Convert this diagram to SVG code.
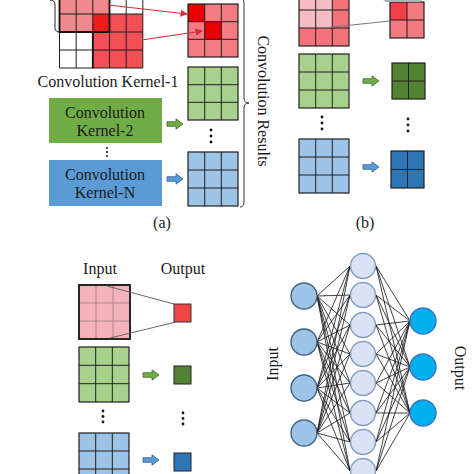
<svg xmlns="http://www.w3.org/2000/svg" width="474" height="474" viewBox="0 0 474 474">
<style>
text{font-family:"Liberation Serif","Times New Roman",serif;font-size:16px;fill:#1a1a1a}
.gl{fill:none;stroke:#1f1f1f;stroke-width:1}
.gb{fill:none;stroke:#1f1f1f;stroke-width:1.2}
.thick{fill:none;stroke:#111;stroke-width:1.8}
.lr{fill:#f08a8e}.br{fill:#ee1c1c}.dr{fill:#f25055}.rc{fill:#f27c80}.rb{fill:#e60000}
.lg{fill:#a9d18e}.dg{fill:#548235}.lb{fill:#9dc3e6}.db{fill:#2e75b6}
.pk{fill:#f5bcc2}.rd{fill:#f2737a}
.ga{fill:#70ad47;stroke:#3f6b28;stroke-width:0.8}
.ba{fill:#5b9bd5;stroke:#2f5f8f;stroke-width:0.8}
.dot{fill:#111}
.in{fill:#9dc3e6;stroke:#3f6286;stroke-width:1.4}
.hd{fill:#dae3f3;stroke:#7f9cc7;stroke-width:1.4}
.out{fill:#00b0f0;stroke:#3a78c0;stroke-width:1.4}
</style>
<defs>
<marker id="ah" viewBox="0 0 10 10" refX="9" refY="5" markerWidth="6" markerHeight="6" orient="auto">
<path d="M0 0L10 5L0 10z" fill="#d42a3a"/>
</marker>
<path id="arr" d="M0 -2.3H9V-5.2L16 0L9 5.2V2.3H0Z"/>
</defs>
<rect width="474" height="474" fill="#fff"/>

<!-- Panel (a) -->
<g id="input-grid-a">
<rect x="59.5" y="-22" width="83.3" height="90" fill="#fff"/>
<rect class="lr" x="59.5" y="-22" width="50" height="54"/>
<rect class="dr" x="92.8" y="14" width="50" height="54"/>
<rect class="br" x="92.8" y="14" width="16.7" height="18"/>
<path class="gl" d="M59.5 -22V68M76.2 -22V68M92.8 -22V68M109.5 -22V68M126.2 -22V68M142.8 -22V68M59.5 -4H142.8M59.5 14H142.8M59.5 32H142.8M59.5 50H142.8M59.5 68H142.8"/>
<path class="thick" d="M59.5 -22V32H109.5V-22"/>
<path class="thick" d="M92.8 32V68"/>
<path class="gl" d="M50 0Q55 0 55 5V28Q55 32 60 32"/>
</g>
<g id="kernel1-label"><text x="108" y="87" text-anchor="middle">Convolution Kernel-1</text></g>
<g id="kernel2">
<rect x="49" y="98" width="113" height="45" fill="#70ad47"/>
<text x="105" y="118" text-anchor="middle">Convolution</text>
<text x="105" y="136" text-anchor="middle">Kernel-2</text>
</g>
<g id="dots-a-left"><circle class="dot" cx="107" cy="148" r="1"/><circle class="dot" cx="107" cy="152" r="1"/><circle class="dot" cx="107" cy="156" r="1"/></g>
<g id="kernelN">
<rect x="49" y="160" width="113" height="46" fill="#5b9bd5"/>
<text x="105" y="180" text-anchor="middle">Convolution</text>
<text x="105" y="198" text-anchor="middle">Kernel-N</text>
</g>
<g id="result-red-a">
<rect class="rc" x="188" y="4" width="50" height="53"/>
<rect class="rb" x="188" y="4" width="16.7" height="17.7"/>
<rect class="rb" x="204.7" y="21.7" width="16.7" height="17.6"/>
<path class="gl" d="M204.7 4V57M221.3 4V57M188 21.7H238M188 39.3H238"/>
<rect class="gb" x="188" y="4" width="50" height="53"/>
</g>
<g id="result-green-a">
<rect class="lg" x="188" y="67" width="50" height="53"/>
<path class="gl" d="M204.7 67V120M221.3 67V120M188 84.7H238M188 102.3H238"/>
<rect class="gb" x="188" y="67" width="50" height="53"/>
</g>
<g id="dots-a-right"><circle class="dot" cx="211" cy="130" r="1.4"/><circle class="dot" cx="211" cy="136" r="1.4"/><circle class="dot" cx="211" cy="142" r="1.4"/></g>
<g id="result-blue-a">
<rect class="lb" x="188" y="152" width="50" height="54"/>
<path class="gl" d="M204.7 152V206M221.3 152V206M188 170H238M188 188H238"/>
<rect class="gb" x="188" y="152" width="50" height="54"/>
</g>
<g id="brace-a"><path d="M240 -2Q244 -2 244 3V98Q244 103 249 103Q244 103 244 108V202Q244 207 240 207" fill="none" stroke="#333" stroke-width="1"/></g>
<g id="label-results"><text transform="translate(258 101) rotate(90)" text-anchor="middle">Convolution Results</text></g>
<g id="label-a"><text x="162" y="228" text-anchor="middle">(a)</text></g>

<!-- Panel (b) -->
<g id="input-red-b">
<rect class="rd" x="299" y="-8" width="50" height="54"/>
<rect class="pk" x="299" y="-8" width="33.3" height="36"/>
<path class="gl" d="M315.7 -8V46M332.3 -8V46M299 10H349M299 28H349"/>
<rect class="gb" x="299" y="-8" width="50" height="54"/>
</g>
<g id="output-red-b">
<rect x="390" y="2" width="34" height="36" fill="#f27a80"/>
<rect x="390" y="2" width="17" height="18" fill="#f0404a"/>
<path class="gl" d="M407 2V38M390 20H424"/>
<rect class="gb" x="390" y="2" width="34" height="36"/>
</g>
<g id="input-green-b">
<rect class="lg" x="299" y="54" width="50" height="54"/>
<path class="gl" d="M315.7 54V108M332.3 54V108M299 72H349M299 90H349"/>
<rect class="gb" x="299" y="54" width="50" height="54"/>
</g>
<g id="output-green-b">
<rect class="dg" x="392" y="63" width="33" height="36"/>
<path class="gl" d="M408.5 63V99M392 81H425"/>
<rect class="gb" x="392" y="63" width="33" height="36"/>
</g>
<g id="dots-b"><circle class="dot" cx="322" cy="117" r="1.4"/><circle class="dot" cx="322" cy="123" r="1.4"/><circle class="dot" cx="322" cy="129" r="1.4"/><circle class="dot" cx="408" cy="119" r="1.4"/><circle class="dot" cx="408" cy="125" r="1.4"/><circle class="dot" cx="408" cy="131" r="1.4"/></g>
<g id="input-blue-b">
<rect class="lb" x="299" y="139" width="50" height="54"/>
<path class="gl" d="M315.7 139V193M332.3 139V193M299 157H349M299 175H349"/>
<rect class="gb" x="299" y="139" width="50" height="54"/>
</g>
<g id="output-blue-b">
<rect class="db" x="391" y="151" width="33" height="37"/>
<path class="gl" d="M407.5 151V188M391 169.5H424"/>
<rect class="gb" x="391" y="151" width="33" height="37"/>
</g>
<g id="label-b"><text x="365" y="228" text-anchor="middle">(b)</text></g>

<!-- Panel (c) -->
<g id="label-c-input"><text x="100" y="274" text-anchor="middle">Input</text></g>
<g id="label-c-output"><text x="183" y="274" text-anchor="middle">Output</text></g>
<g id="input-pink-c">
<rect x="79" y="285" width="51" height="54" fill="#f4b3bb"/>
<path d="M96 285V339M113 285V339M79 303H130M79 321H130" fill="none" stroke="#a07c80" stroke-width="0.8"/>
<rect x="79" y="285" width="51" height="54" fill="none" stroke="#111" stroke-width="1.8"/>
</g>
<g id="output-red-c"><rect x="174" y="304" width="17" height="18" fill="#f04545" stroke="#333" stroke-width="1"/></g>
<g id="input-green-c">
<rect class="lg" x="79" y="347" width="50" height="55"/>
<path class="gl" d="M95.7 347V402M112.3 347V402M79 365.3H129M79 383.7H129"/>
<rect class="gb" x="79" y="347" width="50" height="55"/>
</g>
<g id="output-green-c"><rect class="dg" x="174" y="366" width="17" height="18" stroke="#222" stroke-width="1"/></g>
<g id="dots-c"><circle class="dot" cx="103" cy="411" r="1.4"/><circle class="dot" cx="103" cy="416.5" r="1.4"/><circle class="dot" cx="103" cy="422" r="1.4"/><circle class="dot" cx="183" cy="413" r="1.4"/><circle class="dot" cx="183" cy="418.5" r="1.4"/><circle class="dot" cx="183" cy="424" r="1.4"/></g>
<g id="input-blue-c">
<rect class="lb" x="79" y="433" width="50" height="54"/>
<path class="gl" d="M95.7 433V487M112.3 433V487M79 451H129M79 469H129"/>
<rect class="gb" x="79" y="433" width="50" height="54"/>
</g>
<g id="output-blue-c"><rect class="db" x="174" y="453" width="17" height="18" stroke="#222" stroke-width="1"/></g>

<!-- Panel (d) labels -->
<g id="label-d-input"><text transform="translate(278 364) rotate(-90)" text-anchor="middle">Input</text></g>
<g id="label-d-output"><text transform="translate(455 368) rotate(90)" text-anchor="middle">Output</text></g>

<!-- Connectors -->
<g id="connectors">
<line x1="108" y1="5" x2="187" y2="14" stroke="#d42a3a" stroke-width="1.2" marker-end="url(#ah)"/>
<line x1="142" y1="40" x2="202" y2="31" stroke="#d42a3a" stroke-width="1.2" marker-end="url(#ah)"/>
<use href="#arr" class="ga" x="167" y="124"/>
<use href="#arr" class="ba" x="167" y="179"/>
<line x1="323" y1="28" x2="390" y2="21" stroke="#777" stroke-width="1"/>
<polygon points="383,0 422,0 420,2 386,2" fill="#a8b4b6"/>
<use href="#arr" class="ga" x="363" y="81"/>
<use href="#arr" class="ba" x="363" y="167"/>
<line x1="107" y1="286" x2="174" y2="304" stroke="#666" stroke-width="1"/>
<line x1="110" y1="338" x2="176" y2="322" stroke="#666" stroke-width="1"/>
<use href="#arr" class="ga" x="143" y="375"/>
<use href="#arr" class="ba" x="143" y="460"/>
<path fill="none" stroke="#111" stroke-width="0.8" d="M317 296L350 266M317 296L350 295M317 296L350 325M317 296L350 354M317 296L350 383M317 296L350 413M317 296L350 442M317 296L350 471M317 342L350 266M317 342L350 295M317 342L350 325M317 342L350 354M317 342L350 383M317 342L350 413M317 342L350 442M317 342L350 471M317 388L350 266M317 388L350 295M317 388L350 325M317 388L350 354M317 388L350 383M317 388L350 413M317 388L350 442M317 388L350 471M317 433L350 266M317 433L350 295M317 433L350 325M317 433L350 354M317 433L350 383M317 433L350 413M317 433L350 442M317 433L350 471M376 266L410 321M376 266L410 367M376 266L410 413M376 295L410 321M376 295L410 367M376 295L410 413M376 325L410 321M376 325L410 367M376 325L410 413M376 354L410 321M376 354L410 367M376 354L410 413M376 383L410 321M376 383L410 367M376 383L410 413M376 413L410 321M376 413L410 367M376 413L410 413M376 442L410 321M376 442L410 367M376 442L410 413M376 471L410 321M376 471L410 367M376 471L410 413"/>
</g>

<!-- NN nodes -->
<g id="nn-input"><circle class="in" cx="304" cy="296" r="13"/><circle class="in" cx="304" cy="342" r="13"/><circle class="in" cx="304" cy="388" r="13"/><circle class="in" cx="304" cy="433" r="13"/></g>
<g id="nn-hidden"><circle class="hd" cx="363" cy="266" r="12.5"/><circle class="hd" cx="363" cy="295" r="12.5"/><circle class="hd" cx="363" cy="325" r="12.5"/><circle class="hd" cx="363" cy="354" r="12.5"/><circle class="hd" cx="363" cy="383" r="12.5"/><circle class="hd" cx="363" cy="413" r="12.5"/><circle class="hd" cx="363" cy="442" r="12.5"/><circle class="hd" cx="363" cy="471" r="12.5"/></g>
<g id="nn-output"><circle class="out" cx="423" cy="321" r="13"/><circle class="out" cx="423" cy="367" r="13"/><circle class="out" cx="423" cy="413" r="13"/></g>
</svg>
